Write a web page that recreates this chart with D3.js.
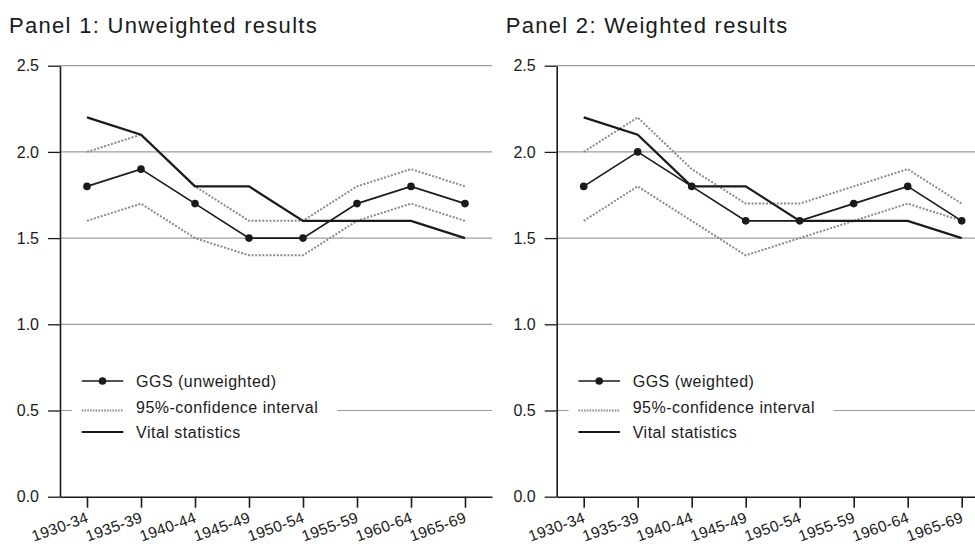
<!DOCTYPE html>
<html>
<head>
<meta charset="utf-8">
<script src="https://cdn.jsdelivr.net/npm/d3@7"></script>
<style>
  html, body { margin: 0; padding: 0; background: #fff; }
  svg { display: block; font-family: "Liberation Sans", Arial, sans-serif; }
</style>
</head>
<body>
<div id="chart"></div>
<script>
// periods on the x axis
const categories = ["1930-34", "1935-39", "1940-44", "1945-49", "1950-54", "1955-59", "1960-64", "1965-69"];
const yTicks = [0, 0.5, 1.0, 1.5, 2.0, 2.5];

// Panel 1 : unweighted
const ggsUnweighted = [1.8, 1.9, 1.7, 1.5, 1.5, 1.7, 1.8, 1.7];
const ciUpperUnweighted = [2.0, 2.1, 1.8, 1.6, 1.6, 1.8, 1.9, 1.8];
const ciLowerUnweighted = [1.6, 1.7, 1.5, 1.4, 1.4, 1.6, 1.7, 1.6];

// Panel 2 : weighted
const ggsWeighted = [1.8, 2.0, 1.8, 1.6, 1.6, 1.7, 1.8, 1.6];
const ciUpperWeighted = [2.0, 2.2, 1.9, 1.7, 1.7, 1.8, 1.9, 1.7];
const ciLowerWeighted = [1.6, 1.8, 1.6, 1.4, 1.5, 1.6, 1.7, 1.6];

// same in both panels
const vitalStats = [2.2, 2.1, 1.8, 1.8, 1.6, 1.6, 1.6, 1.5];

const panels = [
  { title: "Panel 1: Unweighted results", left: 60, ggs: ggsUnweighted, upper: ciUpperUnweighted, lower: ciLowerUnweighted, ggsLabel: "GGS (unweighted)" },
  { title: "Panel 2: Weighted results", left: 556.7, ggs: ggsWeighted, upper: ciUpperWeighted, lower: ciLowerWeighted, ggsLabel: "GGS (weighted)" },
];

const W = 975, H = 544;
const TOP = 65.7, BOTTOM = 496.7, PLOT_W = 432;
const INK = "#1a1a1a", GRID = "#9c9c9c", CI = "#8a8a8a";

const svg = d3.select("#chart").append("svg").attr("width", W).attr("height", H);

const y = d3.scaleLinear().domain([0, 2.5]).range([BOTTOM, TOP]);
const x = d3.scalePoint().domain(categories).range([0, PLOT_W]).padding(0.5);

function drawPanel(p) {
  const g = svg.append("g").attr("transform", `translate(${p.left},0)`);

  // title
  svg.append("text")
    .attr("x", p.left - 51)
    .attr("y", 33)
    .style("font-size", "22px")
    .style("letter-spacing", "1.3px")
    .style("fill", INK)
    .text(p.title);

  // gridlines
  g.append("g").selectAll("line")
    .data(yTicks.filter((d) => d > 0))
    .join("line")
    .attr("x1", 0).attr("x2", PLOT_W)
    .attr("y1", (d) => y(d)).attr("y2", (d) => y(d))
    .attr("stroke", GRID)
    .attr("stroke-width", 1.2);

  // legend background breaks the 0.5 gridline
  g.append("rect")
    .attr("x", 12).attr("y", 364)
    .attr("width", 265).attr("height", 80)
    .attr("fill", "#fff");

  const line = d3.line().x((d, i) => x(categories[i])).y((d) => y(d));

  // confidence interval
  [p.upper, p.lower].forEach((s) => {
    g.append("path")
      .datum(s)
      .attr("d", line)
      .attr("fill", "none")
      .attr("stroke", CI)
      .attr("stroke-width", 2)
      .attr("stroke-dasharray", "2,1.6");
  });

  // vital statistics
  g.append("path")
    .datum(vitalStats)
    .attr("d", line)
    .attr("fill", "none")
    .attr("stroke", INK)
    .attr("stroke-width", 2.2);

  // GGS
  g.append("path")
    .datum(p.ggs)
    .attr("d", line)
    .attr("fill", "none")
    .attr("stroke", INK)
    .attr("stroke-width", 1.7);

  g.append("g").selectAll("circle")
    .data(p.ggs)
    .join("circle")
    .attr("cx", (d, i) => x(categories[i]))
    .attr("cy", (d) => y(d))
    .attr("r", 3.8)
    .attr("fill", INK);

  // axes
  const yAxis = g.append("g")
    .call(d3.axisLeft(y).tickValues(yTicks).tickSize(12).tickSizeOuter(0).tickPadding(9).tickFormat(d3.format(".1f")));
  yAxis.select(".domain").attr("stroke", INK).attr("stroke-width", 1.6);
  yAxis.selectAll(".tick line").attr("stroke", INK).attr("stroke-width", 1.3);
  yAxis.selectAll(".tick text")
    .attr("fill", INK)
    .style("font-size", "16px")
    .style("font-family", "Liberation Sans, Arial, sans-serif");

  const xAxis = g.append("g")
    .attr("transform", `translate(0,${BOTTOM})`)
    .call(d3.axisBottom(x).tickSize(11).tickSizeOuter(0));
  xAxis.select(".domain").attr("stroke", INK).attr("stroke-width", 1.6);
  xAxis.selectAll(".tick line").attr("stroke", INK).attr("stroke-width", 1.6);
  xAxis.selectAll(".tick text")
    .attr("fill", INK)
    .attr("text-anchor", "end")
    .attr("x", 0).attr("y", 0).attr("dy", 0)
    .attr("transform", "translate(2,25) rotate(-20)")
    .style("font-size", "15.5px")
    .style("letter-spacing", "0.3px")
    .style("font-family", "Liberation Sans, Arial, sans-serif");

  // legend
  const items = [
    { label: p.ggsLabel, type: "ggs", base: 387, off: -6 },
    { label: "95%-confidence interval", type: "ci", base: 412.5, off: -2 },
    { label: "Vital statistics", type: "vital", base: 438, off: -6 },
  ];
  const lg = g.append("g");
  items.forEach((it) => {
    const ly = it.base + it.off;
    lg.append("line")
      .attr("x1", 21.7).attr("x2", 63.3)
      .attr("y1", ly).attr("y2", ly)
      .attr("stroke", it.type === "ci" ? CI : INK)
      .attr("stroke-width", it.type === "ci" ? 2 : (it.type === "ggs" ? 1.7 : 2.2))
      .attr("stroke-dasharray", it.type === "ci" ? "1.6,1.2" : null);
    if (it.type === "ggs") {
      lg.append("circle").attr("cx", 42.5).attr("cy", ly).attr("r", 3.8).attr("fill", INK);
    }
    lg.append("text")
      .attr("x", 76)
      .attr("y", it.base)
      .style("font-size", "16px")
      .style("letter-spacing", "0.5px")
      .style("fill", INK)
      .text(it.label);
  });
}

panels.forEach(drawPanel);
</script>
</body>
</html>
